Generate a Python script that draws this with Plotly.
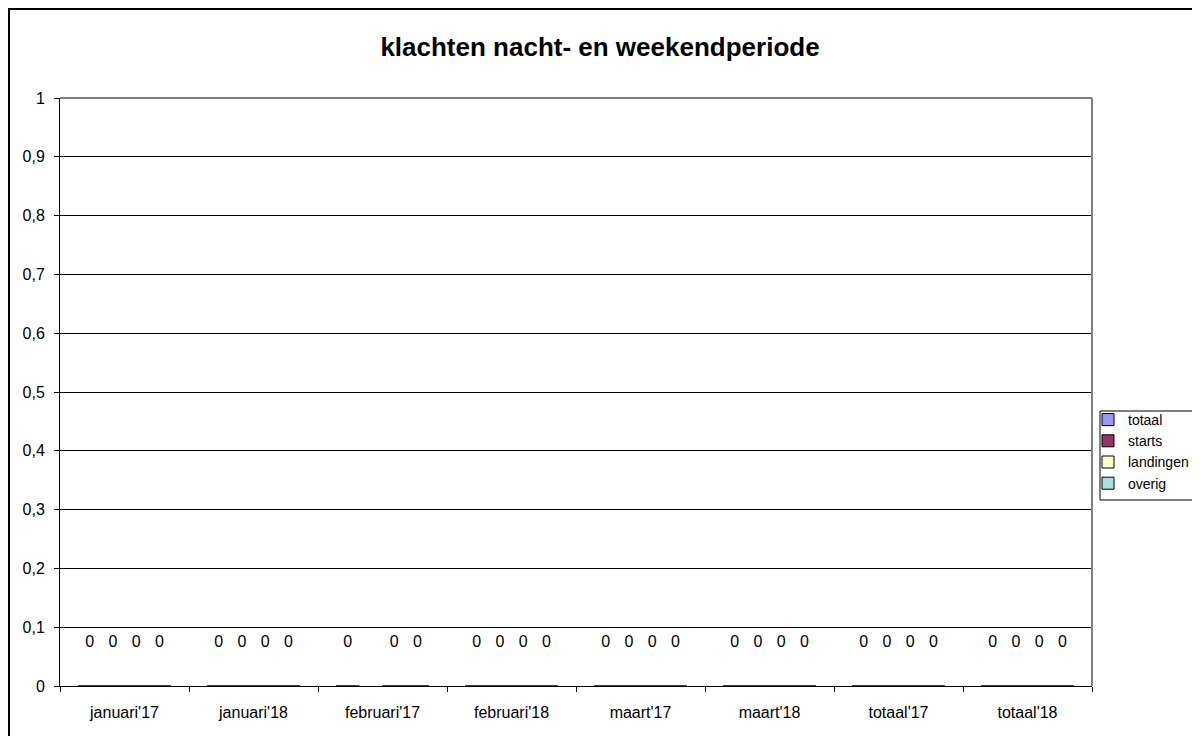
import plotly.graph_objects as go

categories = ["januari'17", "januari'18", "februari'17", "februari'18",
              "maart'17", "maart'18", "totaal'17", "totaal'18"]
series_names = ["totaal", "starts", "landingen", "overig"]
totaal = [0, 0, 0, 0, 0, 0, 0, 0]
starts = [0, 0, None, 0, 0, 0, 0, 0]
landingen = [0, 0, 0, 0, 0, 0, 0, 0]
overig = [0, 0, 0, 0, 0, 0, 0, 0]
colors = ["#9999FF", "#993366", "#FFFFCC", "#A6E0E0"]
y_ticks = [0, 0.1, 0.2, 0.3, 0.4, 0.5, 0.6, 0.7, 0.8, 0.9, 1]
y_ticktext = ["0", "0,1", "0,2", "0,3", "0,4", "0,5", "0,6", "0,7", "0,8", "0,9", "1"]

series = [totaal, starts, landingen, overig]

FONT = "Liberation Sans, Arial"
W, H = 1184, 728
L, R, T, B = 52, 100, 90, 50
PW, PH = W - L - R, H - T - B


def px_x(x):
    return (x - L) / PW


def px_y(y):
    return (H - B - y) / PH


fig = go.Figure()
bargap = 0.28
n = len(series)
w = (1 - bargap) / n
label_lift = 0.073

for j, (name, vals, col) in enumerate(zip(series_names, series, colors)):
    fig.add_trace(go.Bar(
        x=categories, y=vals, name=name,
        marker=dict(color=col, line=dict(color="black", width=1)),
        hoverinfo="skip",
    ))
for j, vals in enumerate(series):
    xs, ys, ts = [], [], []
    for i, v in enumerate(vals):
        if v is None:
            continue
        xs.append(i + (j - (n - 1) / 2) * w)
        ys.append(v + label_lift)
        ts.append(f"{v:g}")
    fig.add_trace(go.Scatter(
        x=xs, y=ys, text=ts, mode="text", xaxis="x2",
        textfont=dict(family=FONT, size=16, color="black"),
        showlegend=False, hoverinfo="skip",
    ))

fig.update_layout(
    width=W, height=H,
    margin=dict(l=L, r=R, t=T, b=B, autoexpand=False),
    paper_bgcolor="white", plot_bgcolor="white",
    barmode="group", bargap=bargap, bargroupgap=0,
    font=dict(family=FONT, size=16, color="black"),
    title=dict(text="<b>klachten nacht- en weekendperiode</b>",
               xref="container", x=592 / W, xanchor="center",
               yref="container", y=1 - 39 / H, yanchor="middle",
               font=dict(size=26, color="black")),
    xaxis=dict(type="category", showline=True, linecolor="black", linewidth=1,
               ticks="outside", ticklen=5, tickcolor="black", tickson="boundaries",
               showgrid=False, tickfont=dict(size=16), ticklabelstandoff=12),
    xaxis2=dict(overlaying="x", range=[-0.5, len(categories) - 0.5],
                visible=False),
    yaxis=dict(range=[0, 1], tickvals=y_ticks, ticktext=y_ticktext,
               showline=True, linecolor="black", linewidth=1,
               ticks="outside", ticklen=5, tickcolor="black",
               showgrid=True, gridcolor="black", gridwidth=1,
               zeroline=False, tickfont=dict(size=16), ticklabelstandoff=6),
    legend=dict(x=px_x(1080), xanchor="left", y=px_y(396), yanchor="top",
                borderwidth=0, bgcolor="rgba(0,0,0,0)",
                font=dict(size=14), itemwidth=30, tracegroupgap=0),
    shapes=[
        dict(type="line", xref="paper", yref="paper", x0=0, x1=1, y0=1, y1=1,
             line=dict(color="#808080", width=2)),
        dict(type="line", xref="paper", yref="paper", x0=1, x1=1, y0=0, y1=1,
             line=dict(color="#808080", width=2)),
        dict(type="rect", xref="paper", yref="paper",
             x0=px_x(1), x1=1.3, y0=-0.3, y1=px_y(1),
             line=dict(color="black", width=2)),
        dict(type="rect", xref="paper", yref="paper", layer="below",
             x0=px_x(1092), x1=px_x(1200), y0=px_y(492), y1=px_y(403),
             line=dict(color="black", width=1), fillcolor="white"),
    ],
)

fig.write_html("out.html")
